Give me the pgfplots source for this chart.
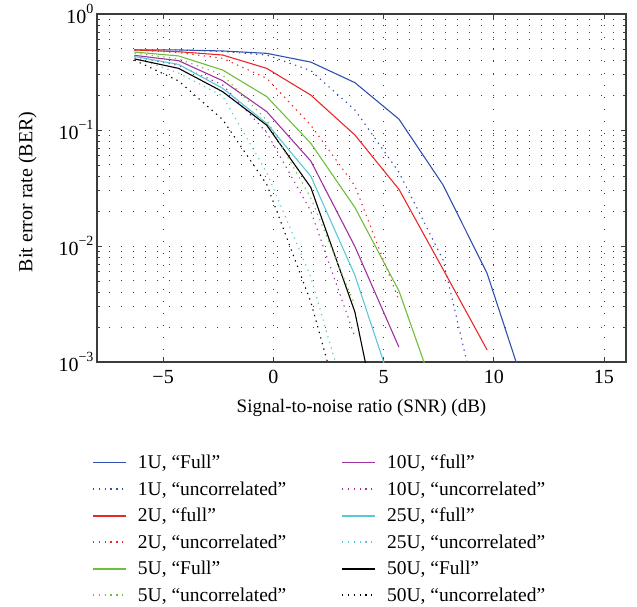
\documentclass[border=0pt]{standalone}
\usepackage{fontspec}
\setmainfont{Liberation Serif}
\usepackage{pgfplots}
\pgfplotsset{compat=1.18}
\definecolor{cblue}{RGB}{48,80,176}
\definecolor{cred}{RGB}{235,40,40}
\definecolor{cgreen}{RGB}{110,190,60}
\definecolor{cpurple}{RGB}{160,50,160}
\definecolor{ccyan}{RGB}{90,200,215}
\definecolor{axgray}{RGB}{60,60,60}
\newcommand{\ex}[1]{10\raisebox{0.5em}{\fontsize{14bp}{16bp}\selectfont #1}}
\newcommand{\legtxt}[1]{\hspace*{9bp}#1}
\begin{document}
\begin{tikzpicture}
\path[use as bounding box] (-97bp,-245bp) rectangle (540bp,362bp);
\begin{axis}[
  at={(0,0)}, anchor=south west,
  scale only axis, width=529bp, height=348bp,
  font=\fontsize{19bp}{23bp}\selectfont,
  xmin=-8, xmax=16, ymin=1e-3, ymax=1, ymode=log,
  xtick={-5,0,5,10,15}, xticklabels={−5,0,5,10,15},
  ytick={1e-3,1e-2,1e-1,1},
  yticklabels={\ex{−3},\ex{−2},\ex{−1},\ex{0}},
  minor ytick={2e-3,3e-3,4e-3,5e-3,6e-3,7e-3,8e-3,9e-3,2e-2,3e-2,4e-2,5e-2,6e-2,7e-2,8e-2,9e-2,2e-1,3e-1,4e-1,5e-1,6e-1,7e-1,8e-1,9e-1},
  minor xtick={},
  ticklabel style={font=\fontsize{20bp}{24bp}\selectfont},
  xticklabel style={yshift=-5bp},
  tick align=inside, major tick length=5bp, minor tick length=3bp,
  tick style={axgray, line width=0.8bp},
  axis line style={axgray, line width=1.2bp},
  xmajorgrids, ymajorgrids, yminorgrids,
  major grid style={black!75, line width=0.9bp, dash pattern=on 1bp off 11bp},
  minor grid style={black!75, line width=0.9bp, dash pattern=on 1bp off 11bp},
  xlabel={Signal-to-noise ratio (SNR) (dB)},
  ylabel={Bit error rate (BER)},
  xlabel style={yshift=-8bp},
  ylabel style={yshift=15bp, xshift=-4bp, font=\fontsize{20bp}{24bp}\selectfont},
  legend columns=2,
  legend cell align=left,
  legend image code/.code={\draw[#1, line width=1.8bp] (0bp,0bp) -- (33bp,0bp);},
  legend style={at={(axis description cs:-0.0095,-0.2605)}, anchor=north west,
    draw=none, fill=none, inner sep=0pt, row sep=7.5bp,
    font=\fontsize{19.5bp}{23bp}\selectfont,
    /tikz/every even column/.append style={column sep=53bp}},
  every axis plot/.append style={line width=1.1bp},
  clip=true,
]
% 1U Full
\addplot[cblue] coordinates {(-6.3,0.49)(-4.3,0.49)(-2.3,0.48)(-0.3,0.458)(1.7,0.385)(3.7,0.256)(5.7,0.124)(7.7,0.0336)(9.7,0.0058)(11.7,4e-4)};
\addlegendentry{\legtxt{1U, “Full”}}
% 10U full
\addplot[cpurple] coordinates {(-6.3,0.44)(-4.3,0.396)(-2.3,0.266)(-0.3,0.144)(1.7,0.054)(3.7,0.0099)(5.7,0.00134)};
\addlegendentry{\legtxt{10U, “full”}}
% 1U uncorrelated
\addplot[cblue, dash pattern=on 1.3bp off 4.5bp] coordinates {(-6.3,0.49)(-4.3,0.49)(-2.3,0.475)(-0.3,0.443)(1.7,0.325)(3.7,0.149)(5.7,0.0432)(7.7,0.0076)(9.7,1.8e-4)};
\addlegendentry{\legtxt{1U, “uncorrelated”}}
% 10U uncorrelated
\addplot[cpurple, dash pattern=on 1.3bp off 4.5bp] coordinates {(-6.3,0.43)(-4.3,0.36)(-2.3,0.245)(-0.3,0.095)(1.7,0.02)(3.7,0.00165)};
\addlegendentry{\legtxt{10U, “uncorrelated”}}
% 2U full
\addplot[cred] coordinates {(-6.3,0.49)(-4.3,0.473)(-2.3,0.443)(-0.3,0.34)(1.7,0.20)(3.7,0.0906)(5.7,0.0308)(7.7,0.0063)(9.7,0.00127)};
\addlegendentry{\legtxt{2U, “full”}}
% 25U full
\addplot[ccyan] coordinates {(-6.3,0.43)(-4.3,0.368)(-2.3,0.229)(-0.3,0.114)(1.7,0.040)(3.7,0.0056)(5.7,4e-4)};
\addlegendentry{\legtxt{25U, “full”}}
% 2U uncorrelated
\addplot[cred, dash pattern=on 1.3bp off 4.5bp] coordinates {(-6.3,0.49)(-4.3,0.465)(-2.3,0.415)(-0.3,0.279)(1.7,0.11)(3.7,0.033)(5.7,0.0034)};
\addlegendentry{\legtxt{2U, “uncorrelated”}}
% 25U uncorrelated
\addplot[ccyan, dash pattern=on 1.3bp off 4.5bp] coordinates {(-6.3,0.42)(-4.3,0.31)(-2.3,0.196)(-0.3,0.043)(1.7,0.0054)(3.7,2.6e-4)};
\addlegendentry{\legtxt{25U, “uncorrelated”}}
% 5U Full
\addplot[cgreen] coordinates {(-6.3,0.47)(-4.3,0.435)(-2.3,0.329)(-0.3,0.194)(1.7,0.0768)(3.7,0.0215)(5.7,0.0041)(7.7,3.4e-4)};
\addlegendentry{\legtxt{5U, “Full”}}
% 50U Full
\addplot[black] coordinates {(-6.3,0.41)(-4.3,0.34)(-2.3,0.214)(-0.3,0.110)(1.7,0.032)(3.7,0.0027)(5.7,4e-5)};
\addlegendentry{\legtxt{50U, “Full”}}
% 5U uncorrelated
\addplot[cgreen, dash pattern=on 1.3bp off 4.5bp] coordinates {(-6.3,0.46)(-4.3,0.41)(-2.3,0.298)(-0.3,0.122)(1.7,0.026)(3.7,0.0031)};
\addlegendentry{\legtxt{5U, “uncorrelated”}}
% 50U uncorrelated
\addplot[black, dash pattern=on 1.3bp off 4.5bp] coordinates {(-6.3,0.40)(-4.3,0.265)(-2.3,0.123)(-0.3,0.034)(1.7,0.0033)(3.7,1.4e-4)};
\addlegendentry{\legtxt{50U, “uncorrelated”}}
\end{axis}
\end{tikzpicture}
\end{document}
